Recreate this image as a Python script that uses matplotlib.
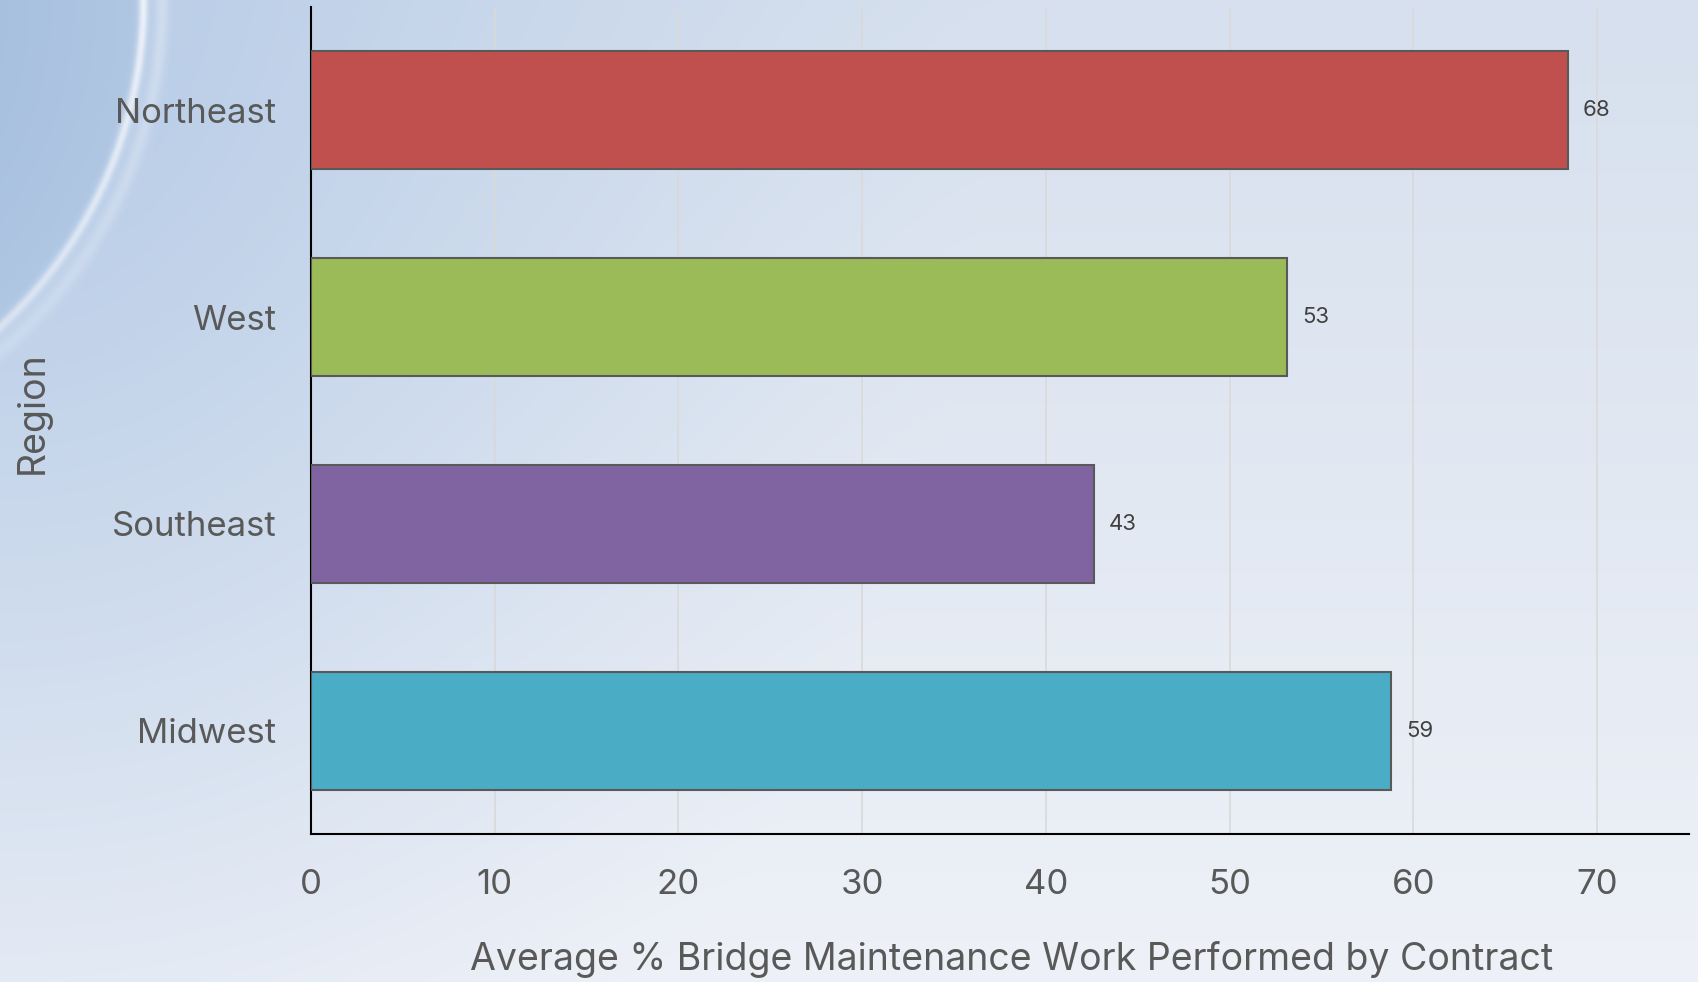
import numpy as np
import matplotlib
matplotlib.use('Agg')
import matplotlib.pyplot as plt

regions = ['Northeast', 'West', 'Southeast', 'Midwest']
values = [68.4, 53.1, 42.6, 58.8]
bar_colors = ['#C0504D', '#9BBB59', '#8064A2', '#4BACC6']
x_ticks = [0, 10, 20, 30, 40, 50, 60, 70]

W, H = 1698, 982
plt.rcParams['font.family'] = ['Inter', 'DejaVu Sans']


def hex_rgb(h):
    h = h.lstrip('#')
    return np.array([int(h[i:i + 2], 16) / 255 for i in (0, 2, 4)])


def make_background():
    yy, xx = np.mgrid[0:H, 0:W].astype(float)
    # soft vertical wash
    t = (yy / H)[..., None]
    top = hex_rgb('#D6E0EE')
    bot = hex_rgb('#EEF1F7')
    img = top * (1 - t) + bot * t
    # bluish glow from the top-left corner
    rc = np.sqrt(xx ** 2 + (yy * 0.75) ** 2)
    g = np.clip(1 - rc / 1000, 0, 1)[..., None] ** 1.3
    img = img * (1 - g) + hex_rgb('#B4CAE6') * g
    # dark swoosh region
    d = np.sqrt((xx + 300) ** 2 + yy ** 2)
    inside = 1 / (1 + np.exp((d - 440) / 2.0))
    k = np.clip(d / 440, 0, 1)[..., None]
    dark = hex_rgb('#95B3D8') * (1 - k) + hex_rgb('#B0C7E3') * k
    img = img * (1 - inside[..., None]) + dark * inside[..., None]
    # white arc lines
    fade = np.clip(1 - yy / 380, 0, 1) * 0.5 + 0.5
    line1 = np.exp(-((d - 443) / 4.5) ** 2) * 0.85 * fade
    line2 = np.exp(-((d - 462) / 7.0) ** 2) * 0.35 * fade
    ln = np.clip(line1 + line2, 0, 1)[..., None]
    img = img * (1 - ln) + np.array([0.96, 0.97, 0.99]) * ln
    return np.clip(img, 0, 1)


fig = plt.figure(figsize=(W / 100, H / 100), dpi=100)
bg = fig.add_axes([0, 0, 1, 1], zorder=-1)
bg.imshow(make_background(), aspect='auto', extent=[0, 1, 0, 1])
bg.axis('off')

ax = fig.add_axes([311 / W, 1 - 834 / H, (1689 - 311) / W, 827 / H])
ax.patch.set_alpha(0)

ypos = np.arange(len(regions))
bars = ax.barh(ypos, values, height=0.57, color=bar_colors,
               edgecolor='#595959', linewidth=1.5, zorder=3)
ax.bar_label(bars, labels=['{:.0f}'.format(v) for v in values],
             padding=11, fontsize=16, color='#404040')

ax.set_ylim(len(regions) - 0.5, -0.5)
ax.set_xlim(0, 75)
ax.set_yticks(ypos)
ax.set_yticklabels(regions)
ax.set_xticks(x_ticks)

ax.tick_params(axis='both', length=0, labelsize=25, labelcolor='#595959')
ax.tick_params(axis='y', pad=25)
ax.tick_params(axis='x', pad=25)

ax.xaxis.grid(True, color='#D9D9D9', linewidth=1.2, zorder=0)
ax.set_axisbelow(True)

for s in ['top', 'right']:
    ax.spines[s].set_visible(False)
for s in ['left', 'bottom']:
    ax.spines[s].set_color('black')
    ax.spines[s].set_linewidth(1.5)

ax.set_xlabel('Average % Bridge Maintenance Work Performed by Contract',
              fontsize=27, color='#595959')
ax.xaxis.set_label_coords((1012 - 311) / 1378, -(960 - 834) / 827)
ax.xaxis.label.set_va('center')

ax.text((33 - 311) / 1378, (834 - 413) / 827, 'Region', rotation=90,
        transform=ax.transAxes, ha='center', va='center',
        fontsize=27, color='#595959')

fig.savefig('out.png', dpi=100)
